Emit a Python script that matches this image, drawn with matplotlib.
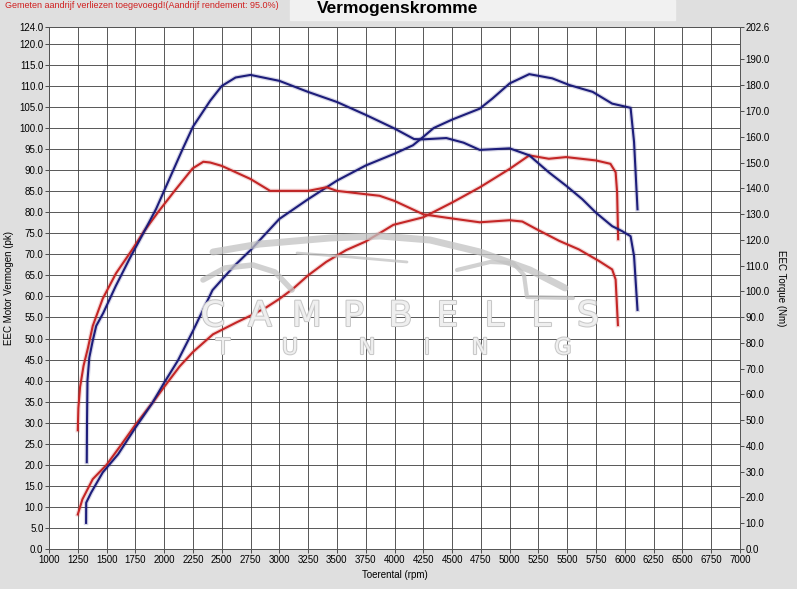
import numpy as np
import matplotlib.pyplot as plt
import matplotlib.patheffects as pe
from matplotlib.lines import Line2D
from matplotlib.patches import Rectangle

# ---- data ----
# blue run
blue_pwr_rpm = [1322, 1323, 1366, 1467, 1600, 1750, 1900, 2000, 2120, 2250, 2420, 2600, 2750,
                3000, 3250, 3500, 3750, 4000, 4160, 4250, 4340, 4500, 4740, 4850, 5000, 5170,
                5370, 5520, 5720, 5890, 6050, 6080, 6110]
blue_pwr = [6.2, 11.0, 13.4, 18.2, 22.5, 28.8, 34.8, 39.5, 44.8, 51.8, 61.5, 67.0, 71.0,
            78.4, 83.1, 87.5, 91.1, 93.9, 95.9, 97.9, 100.0, 102.0, 104.6, 107.0, 110.6, 112.8,
            111.8, 110.2, 108.6, 105.8, 104.8, 96.7, 80.7]
blue_trq_rpm = [1328, 1330, 1334, 1350, 1380, 1410, 1470, 1580, 1700, 1830, 1930, 2045, 2160,
                2250, 2400, 2500, 2620, 2750, 3000, 3250, 3500, 3750, 4000, 4170, 4250, 4450,
                4600, 4740, 5000, 5170, 5340, 5490, 5630, 5750, 5890, 5975, 6050, 6080, 6110]
blue_trq = [33.7, 49.0, 65.4, 74.3, 80.9, 86.6, 91.5, 102.1, 112.7, 123.5, 132.0, 143.6, 155.2,
            163.9, 174.0, 179.7, 183.0, 184.0, 181.7, 177.4, 173.5, 168.5, 163.2, 159.1, 159.0, 159.5,
            157.7, 154.9, 155.5, 152.8, 146.2, 141.0, 135.8, 130.5, 125.3, 123.4, 121.4, 113.7, 92.8]

# red run
red_pwr_rpm = [1250, 1290, 1380, 1500, 1620, 1750, 1900, 2000, 2135, 2250, 2424, 2626, 2748,
               2887, 3000, 3118, 3250, 3407, 3580, 3746, 3870, 3990, 4250, 4500, 4740, 5000,
               5170, 5340, 5490, 5750, 5875, 5920, 5933, 5942]
red_pwr = [8.2, 11.8, 16.6, 20.0, 24.5, 29.5, 34.8, 38.5, 43.4, 46.8, 51.0, 53.8, 55.4,
           57.4, 59.4, 61.8, 65.0, 68.2, 71.0, 73.0, 75.0, 77.0, 78.8, 82.3, 85.9, 90.3,
           93.5, 92.7, 93.1, 92.3, 91.5, 89.5, 84.7, 73.6]
red_trq_rpm = [1250, 1255, 1270, 1300, 1337, 1380, 1467, 1582, 1727, 1828, 1958, 2103, 2247,
               2340, 2400, 2500, 2750, 2920, 3250, 3410, 3500, 3750, 3870, 4000, 4250, 4450,
               4740, 5000, 5110, 5230, 5430, 5600, 5775, 5890, 5920, 5940]
red_trq = [46.1, 54.7, 62.9, 71.1, 77.8, 86.6, 97.2, 107.0, 116.5, 123.5, 131.4, 139.7, 147.7,
           150.3, 150.0, 148.7, 143.6, 139.0, 139.0, 140.4, 139.0, 137.7, 137.1, 135.1, 129.9, 128.6,
           126.8, 127.6, 127.1, 124.2, 119.6, 116.3, 111.8, 108.5, 104.6, 86.9]

x_ticks = list(range(1000, 7001, 250))
pwr_ticks = [0.0, 5.0, 10.0, 15.0, 20.0, 25.0, 30.0, 35.0, 40.0, 45.0, 50.0, 55.0, 60.0, 65.0,
             70.0, 75.0, 80.0, 85.0, 90.0, 95.0, 100.0, 105.0, 110.0, 115.0, 120.0, 124.0]
trq_ticks = [0.0, 10.0, 20.0, 30.0, 40.0, 50.0, 60.0, 70.0, 80.0, 90.0, 100.0, 110.0, 120.0,
             130.0, 140.0, 150.0, 160.0, 170.0, 180.0, 190.0, 202.6]

BLUE = '#1d1d7a'
RED = '#c42626'
BG = '#dfdfdf'
W, H = 797, 589

plt.rcParams['font.family'] = ['Liberation Sans', 'DejaVu Sans']

fig = plt.figure(figsize=(W / 100, H / 100), dpi=100, facecolor=BG)
ax = fig.add_axes([49 / W, 1 - 549 / H, (740 - 49) / W, (549 - 27) / H])
ax.set_facecolor('white')
ax2 = ax.twinx()

ax.set_xlim(1000, 7000)
ax.set_ylim(0, 124)
ax2.set_ylim(0, 202.6)

ax.set_xticks(x_ticks)
ax.set_xticklabels([str(v) for v in x_ticks])
ax.set_yticks(pwr_ticks)
ax.set_yticklabels(['%.1f' % v for v in pwr_ticks])
ax2.set_yticks(trq_ticks)
ax2.set_yticklabels(['%.1f' % v for v in trq_ticks])

ax.grid(True, color='#3c3c3c', lw=0.6)
ax.set_axisbelow(True)
for a in (ax, ax2):
    a.tick_params(labelsize=7, length=3, width=0.6, color='#333333', pad=1)
    for s in a.spines.values():
        s.set_color('#555555')
        s.set_linewidth(0.6)

ax.set_xlabel('Toerental (rpm)', fontsize=7, labelpad=4)
ax.set_ylabel('EEC Motor Vermogen (pk)', fontsize=7, labelpad=4)
ax2.set_ylabel('EEC Torque (Nm)', fontsize=7, rotation=270, labelpad=12)

# ---- watermark (decoration) ----
def px(pts):
    return [p[0] / W for p in pts], [1 - p[1] / H for p in pts]

wm = '#c2c2c2'
for pts, lw in [
    ([(213, 252), (260, 244), (330, 238), (380, 236), (430, 240), (480, 252), (530, 270), (565, 288)], 5),
    ([(297, 253), (350, 257), (407, 262)], 2),
    ([(457, 270), (490, 262), (513, 263), (524, 275), (527, 297), (573, 298)], 3),
    ([(203, 280), (225, 268), (253, 265), (275, 272), (292, 290)], 4),
]:
    xs, ys = px(pts)
    fig.add_artist(Line2D(xs, ys, color=wm, lw=lw, alpha=0.75, solid_capstyle='round', zorder=1.5))

for ch, x in zip('CAMPBELLS', np.linspace(213, 588, 9)):
    fig.text(x / W, 1 - 316 / H, ch, fontsize=25, color='#efefef', ha='center', va='center',
             family='DejaVu Sans', zorder=1.5,
             path_effects=[pe.withStroke(linewidth=1.5, foreground='#c8c8c8')])
for ch, x in zip('TUNING', [223, 290, 367, 427, 480, 563]):
    fig.text(x / W, 1 - 348 / H, ch, fontsize=16, color='#efefef', ha='center', va='center',
             family='DejaVu Sans', zorder=1.5,
             path_effects=[pe.withStroke(linewidth=1.5, foreground='#c8c8c8')])

# ---- curves ----
ax2.patch.set_visible(False)
for rpm, vals, col, axis in [(red_pwr_rpm, red_pwr, RED, ax), (red_trq_rpm, red_trq, RED, ax2),
                             (blue_pwr_rpm, blue_pwr, BLUE, ax), (blue_trq_rpm, blue_trq, BLUE, ax2)]:
    axis.plot(rpm, vals, color=col, lw=3.2, alpha=0.18, zorder=3)
    axis.plot(rpm, vals, color=col, lw=1.5, zorder=4)

# ---- header ----
fig.add_artist(Rectangle((290 / W, 1 - 20 / H), (675 - 290) / W, 20 / H,
                         transform=fig.transFigure, color='#f1f1f1', zorder=0))
fig.text(398 / W, 1 - 9 / H, 'Vermogenskromme', fontsize=12.5, fontweight='bold',
         ha='center', va='center')
fig.text(5 / W, 1 - 6 / H, 'Gemeten aandrijf verliezen toegevoegd!(Aandrijf rendement: 95.0%)',
         fontsize=6.5, color='#d02020', ha='left', va='center')

fig.savefig('out.png', dpi=100, facecolor=BG)
